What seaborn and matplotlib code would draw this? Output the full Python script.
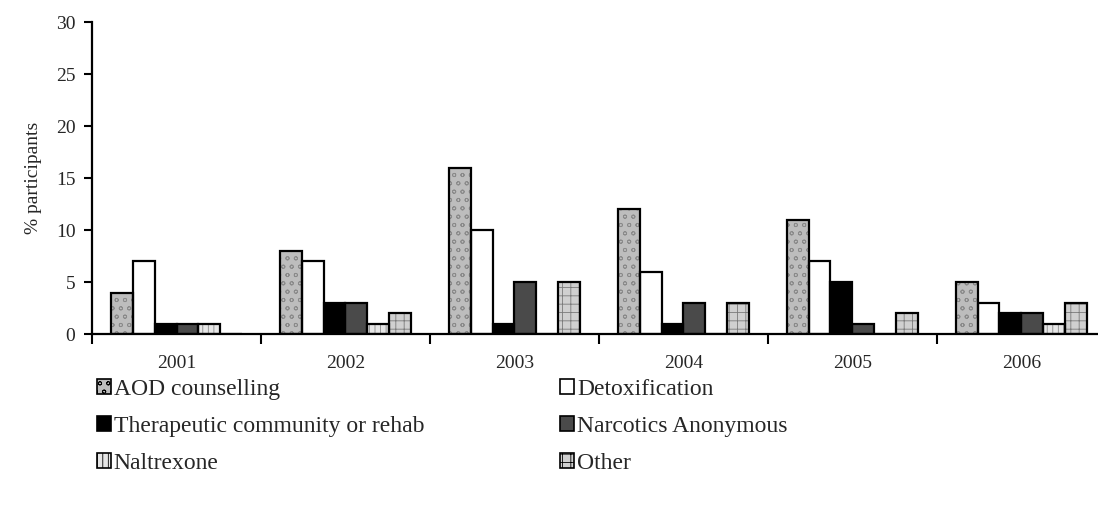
import pandas as pd
import matplotlib
matplotlib.use("Agg")
import matplotlib.pyplot as plt
import matplotlib.patches as mpatches
import seaborn as sns

sns.set_style("white")
plt.rcParams['font.family'] = ['Liberation Serif', 'DejaVu Serif']
plt.rcParams['hatch.linewidth'] = 0.6

years = ['2001', '2002', '2003', '2004', '2005', '2006']
services = ['AOD counselling', 'Detoxification', 'Therapeutic community or rehab',
            'Narcotics Anonymous', 'Naltrexone', 'Other']
aod = [4, 8, 16, 12, 11, 5]
detox = [7, 7, 10, 6, 7, 3]
tc_rehab = [1, 3, 1, 1, 5, 2]
na = [1, 3, 5, 3, 1, 2]
naltrexone = [1, 1, 0, 0, 0, 1]
other = [0, 2, 5, 3, 2, 3]

# styles: face colour, hatch, hatch colour
faces = ['#bdbdbd', 'white', 'black', '#4a4a4a', '#e6e6e6', '#d0d0d0']
hatches = ['oo', '', '', '', '|||', '++']
hatch_cols = ['#8a8a8a', 'black', 'black', '#2e2e2e', '#8a8a8a', '#7a7a7a']

rows = []
for s, vals in zip(services, [aod, detox, tc_rehab, na, naltrexone, other]):
    for y, v in zip(years, vals):
        rows.append({'year': y, 'service': s, 'pct': v})
df = pd.DataFrame(rows)

fig = plt.figure(figsize=(10.98, 5.18), dpi=100)
ax = fig.add_axes([0.0838, 0.355, 0.9162, 0.6023])

sns.barplot(data=df, x='year', y='pct', hue='service', order=years,
            hue_order=services, width=0.78, palette=faces, ax=ax,
            legend=False, saturation=1)

n = len(years)
for i, p in enumerate(ax.patches[:n * len(services)]):
    k = i // n
    p.set_facecolor(faces[k])
    p.set_edgecolor(hatch_cols[k])
    p.set_hatch(hatches[k])
    p.set_linewidth(0)
    ax.add_patch(mpatches.Rectangle(p.get_xy(), p.get_width(), p.get_height(),
                                    fill=False, edgecolor='black', linewidth=1.6,
                                    zorder=p.get_zorder() + 0.1))

ax.set_ylim(0, 30)
ax.set_yticks(range(0, 31, 5))
ax.set_xlim(-0.5, 5.453)
ax.set_xticks([i - 0.5 for i in range(n)])
ax.set_xticklabels([])
ax.set_xticks(range(n), minor=True)
ax.set_xticklabels(years, minor=True)
ax.tick_params(axis='x', which='major', direction='out', length=7, width=1.5, color='black', bottom=True)
ax.tick_params(axis='x', which='minor', length=0, pad=15, labelsize=14)
ax.tick_params(axis='y', direction='out', length=6, width=1.5, color='black', left=True, labelsize=14, pad=6)
for side in ['top', 'right']:
    ax.spines[side].set_visible(False)
for side in ['left', 'bottom']:
    ax.spines[side].set_color('black')
    ax.spines[side].set_linewidth(1.6)
ax.set_xlabel('')
ax.set_ylabel('% participants', fontsize=14, labelpad=10)

handles = []
for k, s in enumerate(services):
    handles.append(mpatches.Patch(facecolor=faces[k], edgecolor='black',
                                  hatch=hatches[k], linewidth=1.2, label=s))
# legend is filled row by row in the reference
order = [0, 2, 4, 1, 3, 5]
fig.legend(handles=[handles[i] for i in order], loc='upper left',
           bbox_to_anchor=(0.088, 0.268),
           ncol=2, frameon=False, fontsize=17, handlelength=0.6, handleheight=0.6,
           handletextpad=0.12, columnspacing=5.75, labelspacing=0.68,
           borderaxespad=0, borderpad=0)

fig.savefig('out.png', dpi=100)
